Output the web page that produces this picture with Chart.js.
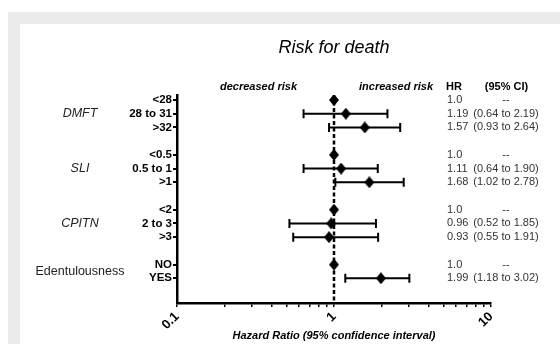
<!DOCTYPE html>
<html><head><meta charset="utf-8">
<script src="https://cdn.jsdelivr.net/npm/chart.js@4.4.1/dist/chart.umd.min.js"></script>
<style>
html,body{margin:0;padding:0;background:#fff;width:560px;height:344px;overflow:hidden;}
#frame{position:absolute;left:8px;top:12px;width:552px;height:332px;background:#ebebeb;}
#panel{position:absolute;left:20px;top:24px;width:540px;height:320px;background:#fff;}
canvas{display:block;}
</style></head><body>
<div id="frame"></div>
<div id="panel"><canvas id="c" width="540" height="320"></canvas></div>
<script>
// ---- data ----
const rowLabels = ['<28','28 to 31','>32','<0.5','0.5 to 1','>1','<2','2 to 3','>3','NO','YES'];
const rowPos    = [0, 1, 2, 4, 5, 6, 8, 9, 10, 12, 13];
const hr        = [1.0, 1.19, 1.57, 1.0, 1.11, 1.68, 1.0, 0.96, 0.93, 1.0, 1.99];
const hrText    = ['1.0','1.19','1.57','1.0','1.11','1.68','1.0','0.96','0.93','1.0','1.99'];
const ciLow     = [null, 0.64, 0.93, null, 0.64, 1.02, null, 0.52, 0.55, null, 1.18];
const ciHigh    = [null, 2.19, 2.64, null, 1.90, 2.78, null, 1.85, 1.91, null, 3.02];
const groupLabels = ['DMFT','SLI','CPITN','Edentulousness'];
const groupPos    = [1, 5, 9, 12.5];
const groupItalic = [true, true, true, false];
const xTickValues = [0.1,0.2,0.3,0.4,0.5,0.6,0.7,0.8,0.9,1,2,3,4,5,6,7,8,9,10];
const xTickLabels = {0.1:'0.1', 1:'1', 10:'10'};

const FONT = "'Liberation Sans', Arial, sans-serif";
Chart.defaults.font.family = FONT;
Chart.defaults.color = '#000';

const Y_MIN = -0.365, Y_MAX = 14.8;

// diamond marker
const diamond = document.createElement('canvas');
diamond.width = 10; diamond.height = 12;
(function(){
  const d = diamond.getContext('2d');
  d.fillStyle = '#000';
  d.beginPath(); d.moveTo(5,0); d.lineTo(10,6); d.lineTo(5,12); d.lineTo(0,6); d.closePath(); d.fill();
})();

const ciText = ciLow.map((lo,i)=> lo==null ? '--' : '(' + lo.toFixed(2) + ' to ' + ciHigh[i].toFixed(2) + ')');

const annot = {
  id: 'annot',
  beforeDatasetsDraw(chart){
    const {ctx, scales:{x, y}} = chart;
    ctx.save();
    ctx.strokeStyle = '#000'; ctx.lineWidth = 2;
    hr.forEach((v,i)=>{
      if (ciLow[i] == null) return;
      const yy = y.getPixelForValue(rowPos[i]);
      const x1 = x.getPixelForValue(ciLow[i]), x2 = x.getPixelForValue(ciHigh[i]);
      ctx.beginPath();
      ctx.moveTo(x1, yy); ctx.lineTo(x2, yy);
      ctx.moveTo(x1, yy-4.5); ctx.lineTo(x1, yy+4.5);
      ctx.moveTo(x2, yy-4.5); ctx.lineTo(x2, yy+4.5);
      ctx.stroke();
    });
    ctx.restore();
  },
  afterDraw(chart){
    const {ctx, chartArea, scales:{x, y}} = chart;
    const x1 = x.getPixelForValue(1);
    ctx.save();
    ctx.fillStyle = '#000';
    ctx.textBaseline = 'middle';
    // title
    ctx.font = 'italic 18px ' + FONT;
    ctx.textAlign = 'center';
    ctx.fillText('Risk for death', x1, 24);
    // headers
    ctx.font = 'italic bold 11px ' + FONT;
    ctx.textAlign = 'right';
    ctx.fillText('decreased risk', x1 - 37, 62.5);
    ctx.fillText('increased risk', chartArea.right - 58, 62.5);
    ctx.font = 'bold 11px ' + FONT;
    ctx.textAlign = 'left';
    ctx.fillText('HR', chartArea.right - 45, 62.5);
    ctx.textAlign = 'center';
    ctx.fillText('(95% CI)', chartArea.right + 15.5, 62.5);
    // table
    ctx.font = '11px ' + FONT;
    ctx.fillStyle = '#333';
    rowPos.forEach((p,i)=>{
      const yy = y.getPixelForValue(p);
      ctx.textAlign = 'left';
      ctx.fillText(hrText[i], chartArea.right - 44, yy);
      ctx.textAlign = 'center';
      ctx.fillText(ciText[i], chartArea.right + 15, yy);
    });
    // group labels
    ctx.fillStyle = '#222';
    groupLabels.forEach((g,i)=>{
      ctx.font = (groupItalic[i] ? 'italic ' : '') + '12.5px ' + FONT;
      ctx.textAlign = 'center';
      ctx.fillText(g, 60, y.getPixelForValue(groupPos[i]));
    });
    ctx.restore();
  }
};

new Chart(document.getElementById('c'), {
  type: 'scatter',
  data: {
    datasets: [
      {
        data: hr.map((v,i)=>({x:v, y:rowPos[i]})),
        pointStyle: diamond,
        pointRadius: 6,
        pointHoverRadius: 6,
        backgroundColor: '#000',
        borderColor: '#000'
      },
      {
        data: [{x:1, y:Y_MIN}, {x:1, y:Y_MAX}],
        showLine: true,
        borderColor: '#000',
        borderWidth: 2.5,
        borderDash: [4, 2.5],
        pointRadius: 0
      }
    ]
  },
  options: {
    responsive: false,
    animation: false,
    events: [],
    layout: { padding: { top: 71, right: 69, left: 0, bottom: 0 } },
    plugins: { legend: { display: false }, tooltip: { enabled: false }, title: { display: false } },
    scales: {
      x: {
        type: 'logarithmic',
        min: 0.1, max: 10,
        afterBuildTicks(s){ s.ticks = xTickValues.map(v=>({value:v})); },
        afterFit(s){ s.height = 41; },
        ticks: {
          autoSkip: false,
          minRotation: 45, maxRotation: 45,
          padding: 2,
          color: '#000',
          font: { weight: 'bold', size: 13 },
          callback: (v)=> xTickLabels[v] !== undefined ? xTickLabels[v] : ''
        },
        grid: { drawOnChartArea: false, drawTicks: true, tickLength: 4, color: '#000', lineWidth: 1.5 },
        border: { display: true, color: '#000', width: 2.5 },
        title: {
          display: true,
          text: 'Hazard Ratio (95% confidence interval)',
          color: '#000',
          font: { weight: 'bold', style: 'italic', size: 11 },
          padding: { top: 0, bottom: 1 }
        }
      },
      y: {
        type: 'linear',
        reverse: true,
        min: Y_MIN, max: Y_MAX,
        afterBuildTicks(s){ s.ticks = rowPos.map(v=>({value:v})); },
        afterFit(s){ s.width = 157; },
        ticks: {
          autoSkip: false,
          padding: 1,
          color: '#000',
          font: { weight: 'bold', size: 11.5 },
          callback: (v)=> { const k = rowPos.indexOf(v); return k >= 0 ? rowLabels[k] : ''; }
        },
        grid: { drawOnChartArea: false, drawTicks: true, tickLength: 4, color: '#000', lineWidth: 2 },
        border: { display: true, color: '#000', width: 2.5 }
      }
    }
  },
  plugins: [annot]
});
</script>
</body></html>
